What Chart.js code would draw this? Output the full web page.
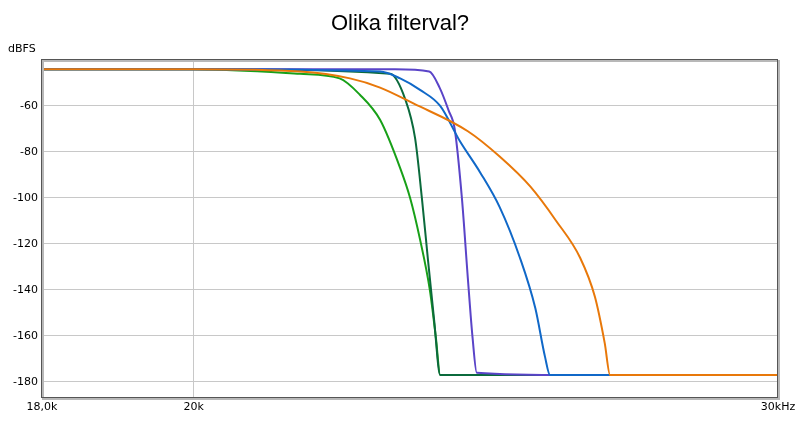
<!DOCTYPE html>
<html><head><meta charset="utf-8">
<script src="https://cdn.jsdelivr.net/npm/chart.js@4/dist/chart.umd.min.js"></script>
<style>html,body{margin:0;background:#fff}#w{width:800px;height:421px}</style>
</head><body><div id="w"><canvas id="c"></canvas></div>
<script>
const title = "Olika filterval?";
const yUnit = "dBFS";
const xTicks = [18, 20, 30];
const xTickLabels = {18: "18,0k", 20: "20k", 30: "30kHz"};
const yTicks = [-60, -80, -100, -120, -140, -160, -180];

const orangeF = [18.0, 20.0, 21.53, 22.29, 22.76, 23.30, 24.19, 24.73, 25.26, 25.72, 26.15, 26.42, 26.60, 26.70, 28.0, 30.0];
const orangeV = [-44, -44, -45, -48, -52, -59, -71, -82, -95, -110, -126, -143, -163, -177, -177, -177];
const blueF = [18.0, 20.0, 22.76, 23.08, 23.40, 23.73, 24.05, 24.40, 24.73, 25.08, 25.35, 25.52, 25.61, 28.0, 30.0];
const blueV = [-44, -44, -45, -48, -53, -60, -75, -89, -104, -126, -148, -169, -177, -177, -177];
const purpleF = [18.0, 20.0, 23.0, 23.55, 23.72, 23.87, 23.97, 24.09, 24.19, 24.27, 24.34, 26.0, 30.0];
const purpleV = [-44, -44, -44, -45, -52, -62, -70, -100, -135, -161, -176, -177, -177];
const darkGreenF = [18.0, 20.0, 22.92, 23.16, 23.32, 23.43, 23.53, 23.63, 23.73, 26.0, 30.0];
const darkGreenV = [-44, -44, -46, -57, -74, -100, -127, -153, -177, -177, -177];
const greenF = [18.0, 20.0, 21.53, 22.13, 22.44, 22.76, 23.08, 23.24, 23.40, 23.56, 23.66, 23.73, 26.0, 30.0];
const greenV = [-44, -44, -46, -48, -55, -66, -87, -100, -118, -140, -161, -177, -177, -177];

const series = [
  {f: orangeF, v: orangeV, c: "#e8780a"},
  {f: blueF, v: blueV, c: "#1068c8"},
  {f: purpleF, v: purpleV, c: "#5a44c8"},
  {f: darkGreenF, v: darkGreenV, c: "#0b6a3c"},
  {f: greenF, v: greenV, c: "#18a018"}
];

const deco = {
  id: "deco",
  afterDraw(ch) {
    const g = ch.ctx, a = ch.chartArea;
    g.save();
    g.fillStyle = "#000";
    g.font = "22px 'Liberation Sans', Arial";
    g.textAlign = "center"; g.textBaseline = "middle";
    g.fillText(title, 400, 24);
    g.font = "11px 'DejaVu Sans'";
    g.textAlign = "left";
    g.fillText(yUnit, 8, 49);
    g.strokeStyle = "#b8b8b8"; g.lineWidth = 2;
    g.strokeRect(a.left + 1, a.top + 1, a.right - a.left, a.bottom - a.top);
    g.strokeStyle = "#555"; g.lineWidth = 1;
    g.strokeRect(a.left - 0.5, a.top - 0.5, a.right - a.left, a.bottom - a.top);
    g.restore();
  }
};

new Chart(document.getElementById("c"), {
  type: "line",
  data: {datasets: series.map(s => ({
    data: s.f.map((x, i) => ({x, y: s.v[i]})),
    borderColor: s.c, borderWidth: 2, pointRadius: 0, cubicInterpolationMode: "monotone", fill: false
  }))},
  options: {
    responsive: true, maintainAspectRatio: false, animation: false,
    layout: {padding: {top: 60, right: 22, left: 0, bottom: 0}},
    plugins: {legend: {display: false}, tooltip: {enabled: false}},
    scales: {
      x: {type: "logarithmic", min: 18, max: 30,
        afterBuildTicks: s => { s.ticks = xTicks.map(v => ({value: v})); },
        afterFit: s => { s.height = 23; },
        ticks: {color: "#000", font: {size: 11, family: "DejaVu Sans"}, maxRotation: 0, autoSkip: false,
          callback: v => xTickLabels[v] || ""},
        grid: {color: "#c8c8c8", drawTicks: false}, border: {display: false}},
      y: {min: -187, max: -40,
        afterBuildTicks: s => { s.ticks = yTicks.map(v => ({value: v})); },
        afterFit: s => { s.width = 42; },
        ticks: {color: "#000", font: {size: 11, family: "DejaVu Sans"}, padding: 4},
        grid: {color: "#c8c8c8", drawTicks: false}, border: {display: false}}
    }
  },
  plugins: [deco]
});
</script></body></html>
